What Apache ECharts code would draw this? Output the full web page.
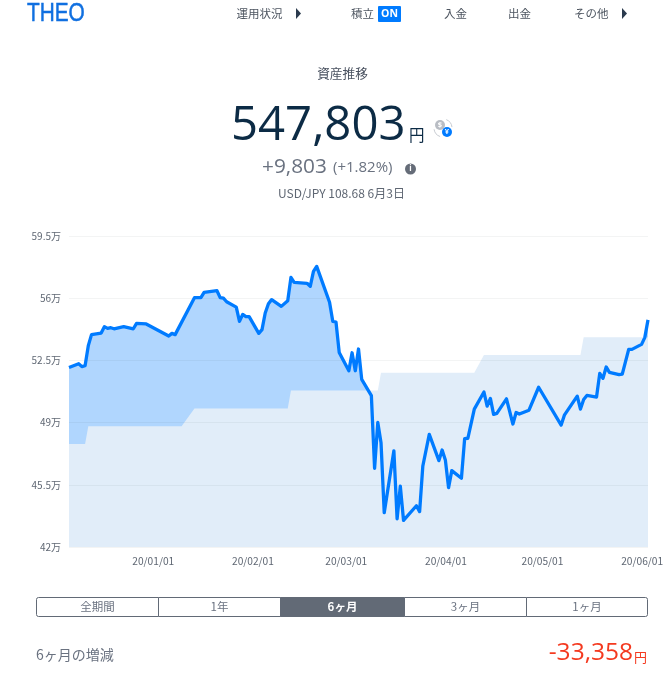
<!DOCTYPE html>
<html>
<head>
<meta charset="utf-8">
<style>html,body{margin:0;padding:0;background:#fff}#c{width:667px;height:682px}</style>
<script src="https://cdn.jsdelivr.net/npm/echarts@6/dist/echarts.min.js"></script>
</head>
<body>
<div id="c"></div>
<script>
// Asset value (unit: 万円)
const assetDates = ['2019-12-05','2019-12-08','2019-12-09','2019-12-10','2019-12-11','2019-12-12','2019-12-15','2019-12-16','2019-12-17','2019-12-18','2019-12-19','2019-12-22','2019-12-25','2019-12-26','2019-12-29','2020-01-05','2020-01-06','2020-01-07','2020-01-13','2020-01-15','2020-01-16','2020-01-20','2020-01-21','2020-01-22','2020-01-23','2020-01-26','2020-01-27','2020-01-28','2020-01-29','2020-01-30','2020-02-02','2020-02-03','2020-02-04','2020-02-05','2020-02-06','2020-02-09','2020-02-11','2020-02-12','2020-02-13','2020-02-17','2020-02-18','2020-02-19','2020-02-20','2020-02-24','2020-02-25','2020-02-26','2020-02-27','2020-03-01','2020-03-02','2020-03-03','2020-03-04','2020-03-05','2020-03-08','2020-03-09','2020-03-10','2020-03-11','2020-03-12','2020-03-15','2020-03-16','2020-03-17','2020-03-18','2020-03-22','2020-03-23','2020-03-24','2020-03-26','2020-03-29','2020-03-30','2020-03-31','2020-04-01','2020-04-02','2020-04-05','2020-04-06','2020-04-07','2020-04-09','2020-04-12','2020-04-13','2020-04-14','2020-04-15','2020-04-16','2020-04-19','2020-04-21','2020-04-22','2020-04-23','2020-04-26','2020-04-29','2020-05-06','2020-05-07','2020-05-11','2020-05-12','2020-05-13','2020-05-14','2020-05-17','2020-05-18','2020-05-19','2020-05-20','2020-05-21','2020-05-24','2020-05-25','2020-05-27','2020-05-28','2020-05-31','2020-06-01','2020-06-02'];
const assetValues = [52.1,52.31,52.15,52.2,53.33,53.95,54.04,54.4,54.3,54.34,54.28,54.4,54.28,54.58,54.55,53.87,54.02,53.95,56.03,56.03,56.33,56.42,56.03,56.0,55.8,55.5,54.7,55.09,54.96,54.96,54.02,54.23,55.17,55.69,55.92,55.54,55.86,57.17,56.89,56.84,56.67,57.51,57.79,55.77,54.7,54.66,52.95,51.92,52.93,51.92,53.14,51.43,50.52,46.43,49.01,47.87,43.93,47.41,43.59,45.43,43.5,44.32,43.99,46.56,48.34,46.86,47.46,46.9,45.34,46.3,45.87,48.1,48.12,49.76,50.72,49.93,50.36,49.46,49.52,50.34,48.92,49.57,49.48,49.7,50.99,48.86,49.42,50.49,49.76,50.3,50.53,50.44,51.77,51.49,52.13,51.83,51.7,51.73,53.12,53.12,53.4,53.78,54.78];

// Principal (unit: 万円)
const principalDates = ['2019-12-05','2019-12-10','2019-12-11','2020-01-09','2020-01-13','2020-02-11','2020-02-12','2020-03-10','2020-03-11','2020-04-09','2020-04-12','2020-05-12','2020-05-13','2020-06-02'];
const principalValues = [47.8,47.8,48.8,48.8,49.8,49.8,50.8,50.8,51.8,51.8,52.8,52.8,53.8,53.8];

const monthTicks = ['2020-01-01','2020-02-01','2020-03-01','2020-04-01','2020-05-01','2020-06-01'];
const navItems = ['運用状況','積立','入金','出金','その他'];
const rangeTabs = ['全期間','1年','6ヶ月','3ヶ月','1ヶ月'];
const axisMin = '2019-12-05T12:00:00', axisMax = '2020-06-02T12:00:00';

const noon = d => new Date(d + 'T12:00:00').getTime();
const pair = (ds, vs) => ds.map((d, i) => [noon(d), vs[i]]);
const FONT = '"Noto Sans CJK JP","Noto Sans",sans-serif';
const NUM = '"Open Sans","Noto Sans CJK JP",sans-serif';

function txt(text, x, y, size, color, align, family, weight, extra) {
  return Object.assign({
    type: 'text', x, y, silent: true,
    style: { text, fontSize: size, fill: color, align: align || 'left', verticalAlign: 'middle',
             fontFamily: family || FONT, fontWeight: weight || 'normal' }
  }, extra || {});
}
const navColor = '#4d5560', grey = '#6a7280';
const g = [];
// header
const logo = txt('THEO', 27, 14, 26, '#0f6fe0', 'left', '"Liberation Sans"', 'normal', {scaleX: .8});
logo.style.stroke = '#0f6fe0'; logo.style.lineWidth = .5;
g.push(logo);
g.push(txt(navItems[0], 236.5, 14, 11.5, navColor));
g.push({type:'polygon', silent:true, shape:{points:[[296,8],[296,19],[301,13.5]]}, style:{fill:'#2b3b4e'}});
g.push(txt(navItems[1], 351, 14, 11.5, navColor));
g.push({type:'rect', silent:true, shape:{x:378,y:6,width:23,height:16,r:1}, style:{fill:'#007bff'}});
g.push(txt('ON', 389.5, 14, 10.5, '#fff', 'center', NUM, 'bold'));
g.push(txt(navItems[2], 444, 14, 11.5, navColor));
g.push(txt(navItems[3], 508, 14, 11.5, navColor));
g.push(txt(navItems[4], 574, 14, 11.5, navColor));
g.push({type:'polygon', silent:true, shape:{points:[[622,8],[622,19],[627,13.5]]}, style:{fill:'#2b3b4e'}});
// summary
g.push(txt('資産推移', 342.5, 73, 12.7, '#4a5260', 'center'));
g.push(txt('547,803', 231, 127, 47.3, '#0c2b45', 'left', NUM));
g.push(txt('円', 409, 135, 15.5, '#0c2b45'));
g.push({type:'arc', silent:true, shape:{cx:443,cy:128,r:9,startAngle:-1.2,endAngle:-0.1}, style:{stroke:'#c8ccd2',fill:null,lineWidth:1}});
g.push({type:'arc', silent:true, shape:{cx:443,cy:128,r:9,startAngle:1.9,endAngle:3.0}, style:{stroke:'#c8ccd2',fill:null,lineWidth:1}});
g.push({type:'circle', silent:true, shape:{cx:440,cy:125,r:5}, style:{fill:'#b9bdc4'}});
g.push(txt('$', 440, 125, 7.5, '#fff', 'center', NUM, 'bold'));
g.push({type:'circle', silent:true, shape:{cx:447,cy:132,r:5}, style:{fill:'#007bff'}});
g.push(txt('¥', 447, 132, 7.5, '#fff', 'center', NUM, 'bold'));
g.push(txt('+9,803', 262, 167, 20.8, grey, 'left', NUM));
g.push(txt('(+1.82%)', 333, 168, 15, grey, 'left', NUM));
g.push({type:'circle', silent:true, shape:{cx:410.5,cy:169,r:5.5}, style:{fill:'#656c78'}});
g.push(txt('i', 410.5, 169, 8, '#fff', 'center', NUM, 'bold'));
g.push(txt('USD/JPY 108.68 6月3日', 278, 193, 12, '#5f6773', 'left', FONT));
// range tabs
const tabEdges = [36.5, 158.5, 280.5, 404.5, 526.5, 647.5];
tabEdges.slice(0, -1).forEach((x, i) => {
  const w = tabEdges[i + 1] - x, on = i === 2;
  const r = i === 0 ? [2,0,0,2] : i === 4 ? [0,2,2,0] : 0;
  g.push({type:'rect', silent:true, shape:{x,y:597.5,width:w,height:19,r}, style:{fill:on?'#626a76':'#fff',stroke:'#626a76',lineWidth:1}});
  g.push(txt(rangeTabs[i], x + w / 2, 606.5, 11.5, on ? '#fff' : grey, 'center', FONT, on ? 'bold' : 'normal'));
});
// footer
g.push(txt('6ヶ月の増減', 36, 655, 14, grey));
g.push(txt('-33,358', 633, 653, 24.5, '#f4391f', 'right', NUM));
g.push(txt('円', 634, 657, 13, '#f4391f'));

const chart = echarts.init(document.getElementById('c'), null, {renderer: 'canvas'});
chart.setOption({
  animation: false,
  backgroundColor: '#fff',
  graphic: g,
  grid: {left: 69, right: 19, top: 236, bottom: 135, containLabel: false},
  xAxis: {
    type: 'value',
    min: new Date(axisMin).getTime(), max: new Date(axisMax).getTime(),
    axisLine: {show: false}, axisTick: {show: false}, splitLine: {show: false},
    axisLabel: {
      customValues: monthTicks.map(d => new Date(d + 'T00:00:00').getTime()),
      color: '#5f6773', fontSize: 10.2, fontFamily: FONT, margin: 9, hideOverlap: false,
      padding: [0, 2, 0, 0],
      formatter: v => {
        const d = new Date(v), p = n => String(n).padStart(2, '0');
        return p(d.getFullYear() % 100) + '/' + p(d.getMonth() + 1) + '/' + p(d.getDate());
      }
    }
  },
  yAxis: {
    type: 'value', min: 42, max: 59.5, interval: 3.5, z: 5,
    axisLine: {show: false}, axisTick: {show: false},
    splitLine: {lineStyle: {color: 'rgba(40,50,60,0.055)', width: 1}},
    axisLabel: {color: '#5f6773', fontSize: 10, fontFamily: FONT, margin: 8, formatter: v => v + '万'}
  },
  series: [
    {type: 'line', z: 1, showSymbol: false, silent: true, lineStyle: {width: 0}, areaStyle: {color: '#b0d6fe', opacity: 1}, data: pair(assetDates, assetValues)},
    {type: 'line', z: 2, showSymbol: false, silent: true, lineStyle: {width: 0}, areaStyle: {color: '#e1edf9', opacity: 1}, data: pair(principalDates, principalValues)},
    {type: 'line', z: 8, showSymbol: false, silent: true, lineStyle: {width: 3.3, color: '#007bff', join: 'round'}, data: pair(assetDates, assetValues)}
  ]
});
</script>
</body>
</html>
